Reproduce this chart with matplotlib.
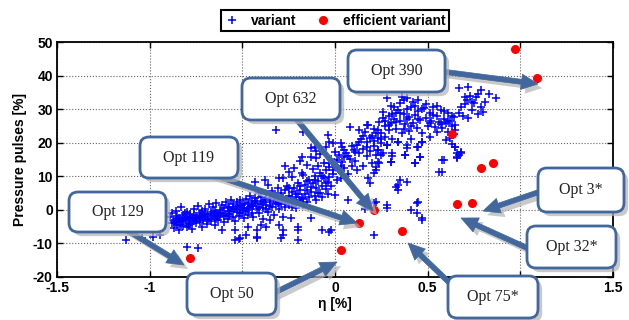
import matplotlib
matplotlib.use('Agg')
import matplotlib.pyplot as plt
from matplotlib.patches import FancyBboxPatch, FancyArrowPatch
from matplotlib import patheffects as pe

plt.rcParams['font.family'] = ['Liberation Sans', 'DejaVu Sans']
plt.rcParams['axes.unicode_minus'] = False

# variants (eta [%], pressure pulses [%])
tail_pts = [
    (-0.89, -2.1), (-0.88, -4.0), (-0.88, -1.0), (-0.87, -3.2), (-0.87, -5.5), (-0.86, -2.6),
    (-0.86, -0.3), (-0.85, -4.4), (-0.85, -1.8), (-0.84, -3.5), (-0.84, -6.0), (-0.83, -2.9),
    (-0.83, 0.8), (-0.82, -4.8), (-0.82, -1.4), (-0.81, -3.0), (-0.81, -2.2), (-0.80, -5.1),
    (-0.80, -0.6), (-0.79, -3.8), (-0.79, -2.0), (-0.78, -4.2), (-0.78, -1.1), (-0.77, -2.7),
    (-0.77, -5.8), (-0.76, -3.3), (-0.76, 0.2), (-0.75, -1.9), (-0.75, -4.0), (-0.74, -2.4),
    (-0.74, 1.2), (-0.73, -3.6), (-0.73, -0.9), (-0.72, -2.0), (-0.72, -5.0), (-0.71, -1.5),
    (-0.71, -3.1), (-0.70, 0.4), (-0.70, -2.5), (-0.69, -4.3), (-0.69, -1.2), (-0.68, -2.8),
    (-0.68, 1.6), (-0.67, -0.5), (-0.67, -3.4), (-0.66, -1.8), (-0.66, 0.9), (-0.65, -2.3),
    (-0.65, -4.6), (-0.64, -0.8), (-0.64, 2.0), (-0.63, -1.6), (-0.63, -3.0), (-0.62, 0.1),
    (-0.62, -2.1), (-0.61, 1.3), (-0.61, -0.9), (-0.60, -3.7), (-0.60, 0.6), (-0.59, -1.4),
    (-0.59, 2.4), (-0.58, -0.3), (-0.58, -2.6), (-0.57, 1.0), (-0.57, -1.1), (-0.56, 3.0),
    (-0.56, -0.2), (-0.55, -2.0), (-0.55, 1.7), (-0.54, 0.3), (-0.54, -3.2), (-0.53, 2.2),
    (-0.53, -0.7), (-0.52, 1.1), (-0.52, -1.8), (-0.51, 0.0), (-0.51, 2.8), (-0.50, -1.0),
    (-0.50, 1.4), (-0.49, -2.4), (-0.49, 0.5), (-0.48, 3.3), (-0.48, -0.4), (-0.47, 1.9),
    (-0.47, -1.5), (-0.46, 0.8), (-0.46, 4.0), (-0.45, -0.9), (-0.45, 2.5),
    (-0.86, -3.8), (-0.84, -2.4), (-0.83, -4.6), (-0.82, -3.3), (-0.81, -0.9), (-0.80, -2.8),
    (-0.79, -4.6), (-0.78, -2.5), (-0.76, -1.5), (-0.75, -3.0), (-0.73, -2.2), (-0.72, -0.4),
    (-0.70, -1.8), (-0.69, -3.1), (-0.67, -1.3), (-0.65, -0.2), (-0.64, -2.7), (-0.62, -1.0),
    (-0.60, -1.9), (-0.58, 0.8), (-0.57, -1.7), (-0.55, 0.2), (-0.53, 0.9), (-0.51, -0.8),
    (-0.49, 1.6), (-0.47, 0.3), (-0.45, 1.5),
]

mid_pts = [
    (-0.44, 1.2), (-0.44, -2.0), (-0.43, 3.4), (-0.43, 8.2), (-0.42, 0.2), (-0.42, 2.6),
    (-0.41, 5.1), (-0.41, -0.8), (-0.40, 1.8), (-0.40, 3.9), (-0.39, 0.6), (-0.39, -2.8),
    (-0.38, 2.9), (-0.38, 8.8), (-0.37, 1.3), (-0.37, 4.6), (-0.36, 7.3), (-0.36, -0.5),
    (-0.35, 2.2), (-0.35, 3.6), (-0.34, 0.9), (-0.34, 5.5), (-0.33, 2.8), (-0.33, -1.6),
    (-0.32, 1.6), (-0.32, 4.2), (-0.31, 3.1), (-0.31, 6.4), (-0.30, 9.4), (-0.30, 0.4),
    (-0.30, 2.4), (-0.29, 4.9), (-0.29, 1.8), (-0.28, 3.5), (-0.28, 9.4), (-0.28, -2.2),
    (-0.27, 5.8), (-0.27, 0.9), (-0.26, 2.7), (-0.26, 7.1), (-0.25, 4.1), (-0.25, 1.4),
    (-0.24, -2.5), (-0.24, 3.3), (-0.23, 9.7), (-0.23, 5.2), (-0.22, 2.0), (-0.22, 6.6),
    (-0.21, 3.9), (-0.21, 0.6), (-0.20, 4.6), (-0.20, 8.0), (-0.19, 2.8), (-0.19, 5.9),
    (-0.18, 3.6), (-0.18, 11.0), (-0.17, 10.3), (-0.17, 1.5), (-0.16, 4.8), (-0.16, 7.4),
    (-0.15, 2.4), (-0.15, 6.0), (-0.14, 9.0), (-0.14, 3.7), (-0.13, -2.5), (-0.13, 5.3),
    (-0.12, 12.2), (-0.12, 7.9), (-0.11, 4.1), (-0.11, 10.1), (-0.10, 6.5), (-0.10, 2.9),
    (-0.09, 8.6), (-0.09, 13.1), (-0.08, 5.0), (-0.08, 11.0), (-0.07, 7.2), (-0.07, 3.8),
    (-0.06, 9.5), (-0.06, 14.0), (-0.05, 6.1), (-0.05, 11.8), (-0.04, 8.3), (-0.04, 4.6),
    (-0.03, 12.9), (-0.03, 9.9), (-0.02, 7.0), (-0.02, 15.1), (-0.01, 10.7), (0.00, 4.3),
    (0.00, 13.4), (0.01, 8.8), (0.02, 11.9), (0.02, 16.2), (0.03, 9.6), (0.04, 14.3),
    (0.05, 12.5), (0.06, 17.0), (0.07, 2.8), (0.07, 10.8), (0.08, 15.2), (0.09, 13.0),
    (0.10, 17.8), (-0.27, 13.0), (-0.22, 12.4), (-0.19, 14.5), (-0.15, 13.5), (-0.08, 16.5),
    (0.00, 17.1), (0.05, 15.6), (-0.25, 11.3), (-0.10, 17.6), (0.12, 12.0),
    (-0.43, 2.0), (-0.41, 1.0), (-0.39, 2.4), (-0.37, 0.2), (-0.35, 1.2), (-0.33, 4.0),
    (-0.31, 1.9), (-0.29, 3.0), (-0.27, 2.1), (-0.25, 6.4), (-0.23, 1.0), (-0.21, 4.8),
    (-0.19, 7.0), (-0.17, 3.2), (-0.15, 8.6), (-0.13, 6.8), (-0.11, 9.0), (-0.09, 4.9),
    (-0.07, 10.2), (-0.05, 8.0), (-0.03, 14.1), (-0.01, 12.0), (0.01, 15.0), (0.03, 13.1),
    (0.05, 17.8), (0.07, 16.1), (0.09, 19.0),
]

upper_pts = [
    (0.11, 14.6), (0.12, 19.4), (0.13, 16.8), (0.14, 21.0), (0.15, 13.2), (0.15, 18.2),
    (0.16, 23.3), (0.17, 15.9), (0.17, 20.1), (0.18, 25.2), (0.18, 9.4), (0.19, 7.9),
    (0.19, 17.5), (0.20, 22.1), (0.20, 14.0), (0.21, 19.0), (0.21, 24.0), (0.22, 11.8),
    (0.22, 16.3), (0.23, 21.5), (0.23, 17.8), (0.24, 13.9), (0.24, 26.2), (0.25, 19.9),
    (0.25, 23.0), (0.26, 27.3), (0.26, 29.1), (0.26, 16.9), (0.27, 21.8), (0.27, 25.0),
    (0.28, 33.3), (0.28, 19.3), (0.29, 23.7), (0.29, 28.0), (0.30, 31.0), (0.30, 14.2),
    (0.30, 25.8), (0.31, 16.9), (0.31, 21.0), (0.32, 30.6), (0.32, 27.0), (0.33, 24.0),
    (0.33, 29.0), (0.34, 20.1), (0.34, 29.7), (0.35, 26.4), (0.35, 31.8), (0.36, 33.6),
    (0.36, 22.8), (0.37, 28.5), (0.37, 32.7), (0.38, 16.3), (0.38, 25.5), (0.39, 19.3),
    (0.39, 33.3), (0.39, 30.0), (0.40, 27.6), (0.40, 23.4), (0.41, 30.6), (0.41, 21.0),
    (0.42, 26.0), (0.42, 32.0), (0.43, 13.9), (0.43, 28.2), (0.44, 24.3), (0.44, 18.7),
    (0.45, 32.7), (0.45, 29.4), (0.46, 15.7), (0.46, 26.8), (0.47, 20.1), (0.47, 23.0),
    (0.48, 30.2), (0.49, 27.5), (0.50, 25.0), (0.51, 21.6), (0.51, 29.0), (0.52, 26.5),
    (0.53, 30.6), (0.54, 24.8), (0.55, 23.1), (0.55, 28.0), (0.56, 11.2), (0.56, 26.1),
    (0.57, 29.8), (0.58, 14.8), (0.58, 24.5), (0.59, 27.2), (0.60, 20.7), (0.60, 25.8),
    (0.61, 28.8), (0.61, 23.3), (0.62, 26.4), (0.62, 21.5), (0.63, 24.9), (0.63, 19.5),
    (0.64, 27.6), (0.64, 22.5), (0.65, 18.7), (0.65, 23.8), (0.66, 16.9), (0.66, 15.4),
    (0.67, 36.3), (0.67, 16.3), (0.68, 17.2), (0.68, 30.5), (0.69, 28.0), (0.70, 31.5),
    (0.71, 32.7), (0.72, 36.6), (0.72, 27.3), (0.73, 34.0), (0.74, 29.7), (0.75, 31.8),
    (0.76, 33.6), (0.77, 28.6), (0.79, 35.7), (0.79, 30.6), (0.80, 29.2), (0.81, 32.2),
    (0.83, 34.5), (0.87, 33.3),
    (0.11, 17.2), (0.13, 20.3), (0.15, 22.0), (0.17, 18.6), (0.19, 21.3), (0.21, 20.6),
    (0.23, 23.8), (0.25, 21.2), (0.27, 26.6), (0.29, 25.2), (0.31, 28.5), (0.33, 26.2),
    (0.35, 29.0), (0.37, 24.2), (0.39, 27.0), (0.41, 25.0), (0.43, 31.0), (0.45, 27.2),
    (0.47, 29.9), (0.49, 31.6), (0.51, 26.0), (0.53, 28.2), (0.55, 30.8), (0.57, 25.6),
    (0.59, 29.5), (0.61, 26.6), (0.63, 28.0), (0.65, 25.2), (0.67, 29.0), (0.70, 33.5),
    (0.74, 32.0), (0.77, 34.6),
]

sparse_pts = [
    (0.21, 10.9), (0.22, 12.8), (0.21, 1.9), (0.22, 2.2), (0.16, 0.4), (0.28, 0.7),
    (0.28, 1.3), (0.35, 8.8), (0.34, 7.3), (0.39, 8.2), (0.34, 5.8), (0.33, 6.7),
    (0.45, 2.2), (0.44, 1.9), (0.41, -0.1), (0.44, -1.0), (0.47, -2.5), (0.47, -3.1),
    (0.21, -7.6), (-0.07, -6.1), (-0.03, -6.7), (-0.02, -6.1), (-0.20, -9.1), (-0.28, -6.1),
    (-0.28, -7.6), (-0.29, -8.5), (-0.37, -5.2), (-0.20, -6.0), (-0.20, -5.0), (-0.42, -8.5),
    (-0.54, -9.1), (-0.52, -8.8), (-0.42, -8.2), (-0.48, -7.6), (-0.51, -8.5), (-0.61, -6.1),
    (-0.54, -6.1), (-0.47, -5.2), (-0.42, -6.1), (-0.40, -4.6), (-0.35, -3.1), (-0.30, -4.6),
    (-0.80, -11.2), (-0.74, -11.5), (-1.13, -9.1), (-1.04, -8.5), (-0.98, -8.2), (-0.945, -7.6),
    (-0.32, 23.7), (-0.17, 23.1), (-0.04, 22.2), (-0.03, 20.1), (-0.01, 19.8), (0.03, 19.8),
    (-0.13, 18.4), (-0.11, 18.7), (-0.18, 15.7), (-0.13, 15.7), (-0.10, 15.4), (0.08, 24.6),
    (0.13, 23.7), (0.17, 25.2), (0.22, 22.8), (-0.05, 18.7), (0.04, 18.7), (0.23, 17.8),
    (0.28, 19.3), (0.34, 20.1), (0.39, 18.3), (0.45, 18.7), (0.47, 20.1), (0.25, 16.3),
    (0.31, 15.9), (0.30, 14.2), (0.23, 14.2), (0.38, 16.3), (0.43, 13.9), (0.46, 15.7),
    (0.645, 18.7), (0.66, 15.7), (0.68, 16.9), (0.59, 14.8), (0.575, 11.2),
]

# efficient variants
eff_x = [0.97, 1.09, 0.63, 0.79, 0.85, 0.66, 0.74, 0.21, 0.13, 0.36, 0.03, -0.78]
eff_y = [48.0, 39.3, 22.5, 12.5, 14.0, 1.6, 2.0, 0.0, -4.0, -6.3, -12.0, -14.2]

x_ticks = [-1.5, -1, -0.5, 0, 0.5, 1, 1.5]
x_tick_labels = ['-1.5', '-1', '-0.5', '0', '0.5', '1', '1.5']
y_ticks = [-20, -10, 0, 10, 20, 30, 40, 50]

# callouts: label, box (left, top, right, bottom) and arrow start/tip, in image pixels
callouts = [
    ('Opt 390', (348, 50, 445, 92), (438, 71), (538, 84)),
    ('Opt 632', (242, 78, 340, 120), (292, 114), (373, 211)),
    ('Opt 119', (140, 137, 238, 178), (205, 172), (357, 223)),
    ('Opt 129', (69, 192, 166, 232), (122, 227), (184, 265)),
    ('Opt 50', (187, 273, 276, 315), (268, 296), (337, 262)),
    ('Opt 3*', (538, 168, 624, 212), (545, 190), (483, 211)),
    ('Opt 32*', (527, 226, 616, 268), (536, 252), (461, 218)),
    ('Opt 75*', (448, 276, 538, 318), (456, 289), (408, 243)),
]

W, H = 629, 320
EDGE = '#41679c'


def px(x, y):
    # image pixels (top-left origin) -> inches for fig.dpi_scale_trans
    return x / 100.0, (H - y) / 100.0


fig = plt.figure(figsize=(W / 100.0, H / 100.0), dpi=100, facecolor='white')
ax = fig.add_axes([57 / W, 1 - 277 / H, (613 - 57) / W, (277 - 42) / H])

all_pts = tail_pts + mid_pts + upper_pts + sparse_pts
var_x = [p[0] for p in all_pts]
var_y = [p[1] for p in all_pts]

ax.plot(var_x, var_y, '+', color='b', ms=6, mew=1.1, label='variant')
ax.plot(eff_x, eff_y, 'o', color='r', mec='r', ms=5.5, label='efficient variant')

ax.set_xlim(-1.5, 1.5)
ax.set_ylim(-20, 50)
ax.set_xticks(x_ticks)
ax.set_xticklabels(x_tick_labels)
ax.set_yticks(y_ticks)
ax.grid(True, linestyle=':', color='0.4', linewidth=0.8)
ax.tick_params(direction='in', length=4, width=1, top=True, right=True, labelsize=10, pad=3)
for lab in ax.get_xticklabels() + ax.get_yticklabels():
    lab.set_fontweight('bold')
for sp in ax.spines.values():
    sp.set_linewidth(1.3)

ax.set_xlabel('η [%]', fontsize=10, fontweight='bold', labelpad=1)
ax.set_ylabel('Pressure pulses [%]', fontsize=10, fontweight='bold', labelpad=4)

leg = ax.legend(loc='lower center', bbox_to_anchor=(0.5, 1.045), ncol=2, borderaxespad=0,
                fancybox=False, framealpha=1, edgecolor='black', handlelength=1.0,
                handletextpad=0.9, columnspacing=1.4, borderpad=0.25,
                prop={'weight': 'bold', 'size': 10})
leg.get_frame().set_linewidth(1.5)

shadow = [pe.SimplePatchShadow(offset=(3, -3), shadow_rgbFace='0.7', alpha=0.7), pe.Normal()]

for label, (x0, y0, x1, y1), start, tip in callouts:
    arrow = FancyArrowPatch(px(*start), px(*tip), transform=fig.dpi_scale_trans,
                            arrowstyle='simple, head_length=12, head_width=11, tail_width=3.6',
                            mutation_scale=1, shrinkA=0, shrinkB=0, fc=EDGE, ec=EDGE, lw=0.5,
                            zorder=5)
    arrow.set_path_effects(shadow)
    fig.add_artist(arrow)

    bx, by = px(x0, y1)
    box = FancyBboxPatch((bx, by), (x1 - x0) / 100.0, (y1 - y0) / 100.0,
                         boxstyle='round, pad=0, rounding_size=0.09',
                         transform=fig.dpi_scale_trans, fc='white', ec=EDGE, lw=2, zorder=6)
    box.set_path_effects(shadow)
    fig.add_artist(box)

    cx, cy = px((x0 + x1) / 2.0, (y0 + y1) / 2.0)
    fig.text(cx, cy, label, transform=fig.dpi_scale_trans, ha='center', va='center',
             family='Liberation Serif', fontsize=11.5, color='#222222', zorder=7)

fig.savefig('out.png', dpi=100)
